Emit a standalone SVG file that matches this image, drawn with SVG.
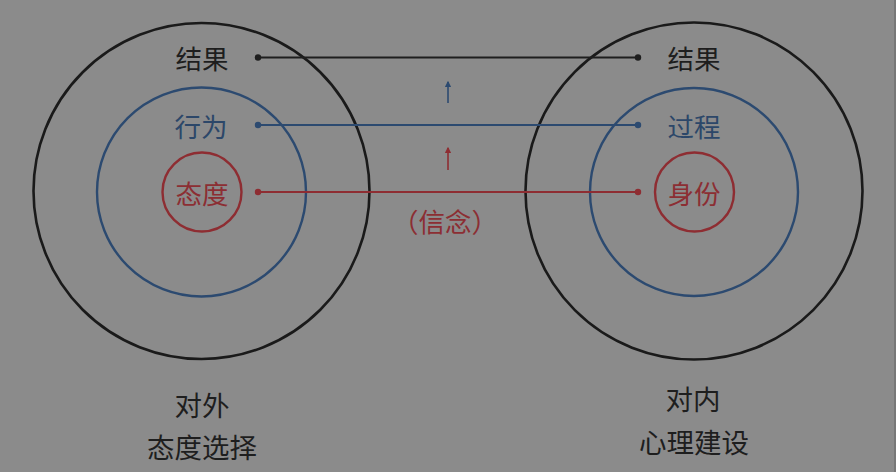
<svg xmlns="http://www.w3.org/2000/svg" width="896" height="472" viewBox="0 0 896 472">
<style>
text{font-family:"Noto Sans CJK SC","Noto Sans",sans-serif;text-anchor:middle;dominant-baseline:central;font-size:26.5px}
.s{font-size:27.5px}
.k{fill:#1e1e1e}.b{fill:#2c4769}.r{fill:#8c2e33}
.ck{fill:none;stroke:#1a1a1a;stroke-width:2.6}
.cb{fill:none;stroke:#2c4a70;stroke-width:2.4}
.cr{fill:none;stroke:#8e2d32;stroke-width:2.4}
.lk{stroke:#1e1e1e;stroke-width:1.8}
.lb{stroke:#2c4a70;stroke-width:1.8}
.lr{stroke:#8e2d32;stroke-width:1.8}
</style>
<defs>
<marker id="ab" viewBox="0 0 10 10" refX="8" refY="5" markerWidth="4" markerHeight="4" orient="auto"><path d="M0,0L10,5L0,10z" fill="#2c4a70"/></marker>
<marker id="ar" viewBox="0 0 10 10" refX="8" refY="5" markerWidth="4" markerHeight="4" orient="auto"><path d="M0,0L10,5L0,10z" fill="#8e2d32"/></marker>
</defs>
<rect width="896" height="472" fill="#8b8b8b"/>
<rect x="894" y="0" width="2" height="472" fill="#777"/>
<g id="left">
<circle class="ck" cx="201.5" cy="191" r="168"/>
<circle class="cb" cx="201.5" cy="192" r="104.5"/>
<circle class="cr" cx="202" cy="192" r="39.5"/>
<text class="k" x="202" y="57">结果</text>
<text class="b" x="201" y="125">行为</text>
<text class="r" x="202" y="192">态度</text>
<text class="k s" x="202" y="404">对外</text>
<text class="k s" x="202" y="446">态度选择</text>
</g>
<g id="right">
<circle class="ck" cx="694" cy="191" r="168.5"/>
<circle class="cb" cx="694" cy="192" r="104"/>
<circle class="cr" cx="694.5" cy="192" r="39.5"/>
<text class="k" x="694" y="57">结果</text>
<text class="b" x="694" y="125">过程</text>
<text class="r" x="694" y="192">身份</text>
<text class="k s" x="693" y="398">对内</text>
<text class="k s" x="694" y="441">心理建设</text>
</g>
<g id="connectors">
<line class="lk" x1="258" y1="57.5" x2="638" y2="57.5"/>
<line class="lb" x1="258" y1="125" x2="638" y2="125"/>
<line class="lr" x1="258" y1="192" x2="638" y2="192"/>
<circle cx="258" cy="57.5" r="3.2" fill="#1e1e1e"/><circle cx="638" cy="57.5" r="3.2" fill="#1e1e1e"/>
<circle cx="258" cy="125" r="3.2" fill="#2c4a70"/><circle cx="638" cy="125" r="3.2" fill="#2c4a70"/>
<circle cx="258" cy="192" r="3.2" fill="#8e2d32"/><circle cx="638" cy="192" r="3.2" fill="#8e2d32"/>
<line x1="448" y1="103" x2="448" y2="82" stroke="#2c4a70" stroke-width="1.6" marker-end="url(#ab)"/>
<line x1="448" y1="170" x2="448" y2="148" stroke="#8e2d32" stroke-width="1.6" marker-end="url(#ar)"/>
<text class="r" x="445" y="220">（信念）</text>
</g>
</svg>
